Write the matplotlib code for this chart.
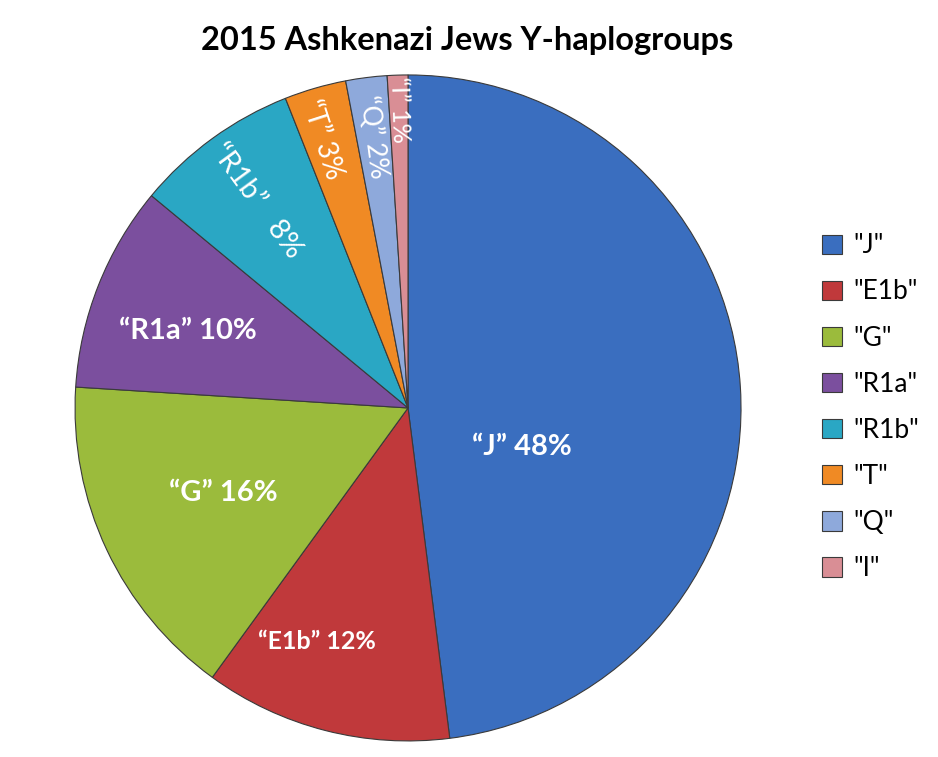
import numpy as np
import matplotlib
matplotlib.use("Agg")
import matplotlib.pyplot as plt

# haplogroup shares (%), clockwise from 12 o'clock
groups = ["J", "E1b", "G", "R1a", "R1b", "T", "Q", "I"]
shares = [48, 12, 16, 10, 8, 3, 2, 1]
colors = ["#3A6EBF", "#C0393B", "#9BBB3C", "#7B4F9E",
          "#2AA7C4", "#F08A24", "#8EA9DB", "#D98E95"]

# label placement: (radius, angle shift in deg, rotated along radius?, size)
label_pos = [(0.362, -22.5, False, 21), (0.754, -6.9, False, 18),
             (0.61, -0.5, False, 21), (0.70, 2.2, False, 21),
             (0.77, 0.2, True, 21), (0.845, 1.6, True, 20),
             (0.82, 0.3, True, 19), (0.895, -0.1, True, 18)]


def main():
    plt.rcParams["font.family"] = ["Lato", "DejaVu Sans"]
    fig = plt.figure(figsize=(9.38, 7.57), dpi=100)
    fig.text(0.498, 0.947, "2015 Ashkenazi Jews Y-haplogroups",
             ha="center", va="center", fontsize=23.5, fontweight="bold")

    ax = fig.add_axes([0.080, 0.0211, 0.710, 0.880])
    wedges, _ = ax.pie(shares, colors=colors, startangle=90, counterclock=False,
                       radius=1.0,
                       wedgeprops=dict(edgecolor="#3a3a3a", linewidth=0.8))
    ax.set_xlim(-1, 1)
    ax.set_ylim(-1, 1)
    ax.set_aspect("equal")
    ax.axis("off")

    for w, g, s, (r, shift, rot, fs) in zip(wedges, groups, shares, label_pos):
        mid = (w.theta1 + w.theta2) / 2 + shift
        x = r * np.cos(np.radians(mid))
        y = r * np.sin(np.radians(mid))
        if rot:
            sep = "   " if g == "R1b" else " "
            ax.text(x, y, f"\u201c{g}\u201d{sep}{s}%", ha="center", va="center",
                    rotation=mid - 180, rotation_mode="anchor",
                    color="white", fontsize=fs)
        else:
            ax.text(x, y, f"\u201c{g}\u201d {s}%", ha="center", va="center",
                    color="white", fontsize=fs, fontweight="bold")

    fig.legend(wedges, [f'"{g}"' for g in groups], loc="center left",
               bbox_to_anchor=(0.851, 0.462), frameon=False, fontsize=19,
               handlelength=0.75, handleheight=0.75, handletextpad=0.45,
               labelspacing=0.8)

    fig.savefig("out.png", dpi=100)


if __name__ == "__main__":
    main()
